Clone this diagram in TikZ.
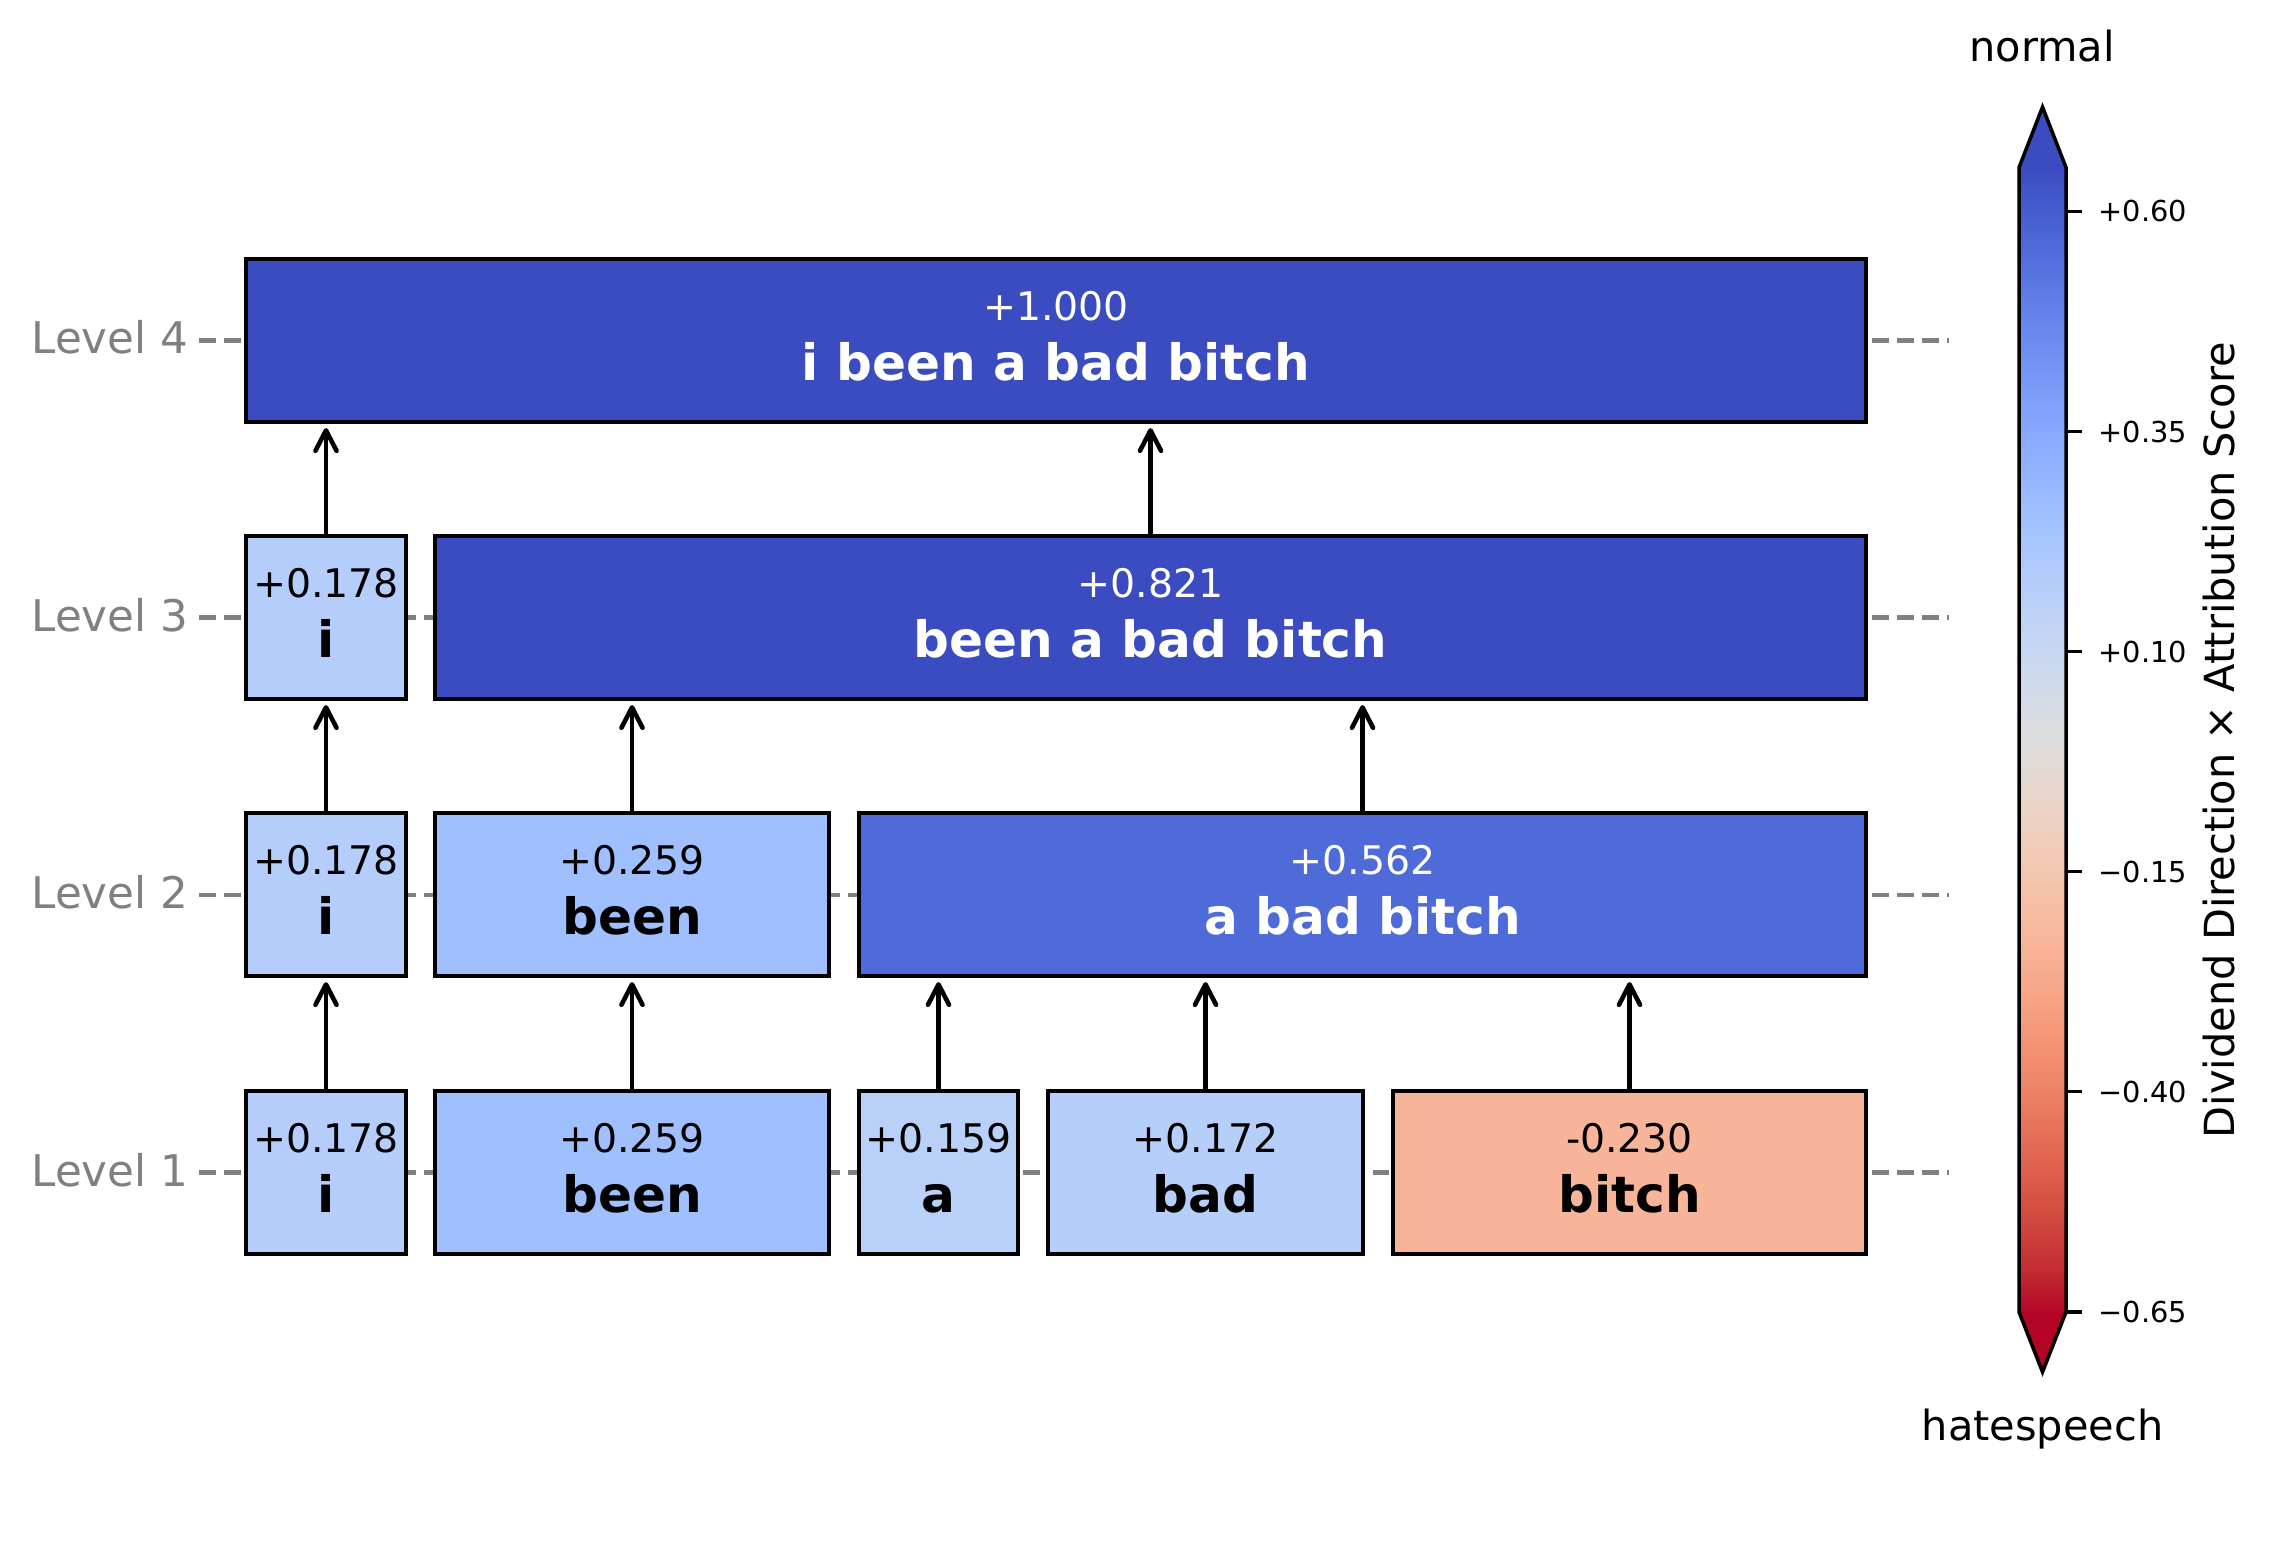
\documentclass[tikz,border=0pt]{standalone}
\usepackage{fontspec}
\setmainfont{DejaVu Sans}
\usetikzlibrary{arrows.meta,calc}
% coolwarm samples (blue -> red)
\definecolor{cw0}{RGB}{59,76,192}
\definecolor{cw1}{RGB}{68,90,204}
\definecolor{cw2}{RGB}{77,104,215}
\definecolor{cw3}{RGB}{87,117,225}
\definecolor{cw4}{RGB}{98,130,234}
\definecolor{cw5}{RGB}{108,142,241}
\definecolor{cw6}{RGB}{119,154,247}
\definecolor{cw7}{RGB}{130,165,251}
\definecolor{cw8}{RGB}{141,176,254}
\definecolor{cw9}{RGB}{152,185,255}
\definecolor{cw10}{RGB}{163,194,255}
\definecolor{cw11}{RGB}{174,201,253}
\definecolor{cw12}{RGB}{184,208,249}
\definecolor{cw13}{RGB}{194,213,244}
\definecolor{cw14}{RGB}{204,217,238}
\definecolor{cw15}{RGB}{213,219,230}
\definecolor{cw16}{RGB}{221,221,221}
\definecolor{cw17}{RGB}{229,216,209}
\definecolor{cw18}{RGB}{236,211,197}
\definecolor{cw19}{RGB}{241,204,185}
\definecolor{cw20}{RGB}{245,196,173}
\definecolor{cw21}{RGB}{247,187,160}
\definecolor{cw22}{RGB}{247,177,148}
\definecolor{cw23}{RGB}{247,166,135}
\definecolor{cw24}{RGB}{244,154,123}
\definecolor{cw25}{RGB}{241,141,111}
\definecolor{cw26}{RGB}{236,127,99}
\definecolor{cw27}{RGB}{229,112,88}
\definecolor{cw28}{RGB}{222,96,77}
\definecolor{cw29}{RGB}{213,80,66}
\definecolor{cw30}{RGB}{203,62,56}
\definecolor{cw31}{RGB}{192,40,47}
\definecolor{cw32}{RGB}{180,4,38}
% box colours
\definecolor{cA}{RGB}{180,205,251}  % +0.178
\definecolor{cB}{RGB}{159,191,255}  % +0.259
\definecolor{cC}{RGB}{185,208,249}  % +0.159
\definecolor{cD}{RGB}{182,206,250}  % +0.172
\definecolor{cE}{RGB}{247,180,152}  % -0.230
\definecolor{cF}{RGB}{79,106,217}   % +0.562
\definecolor{cG}{RGB}{59,76,192}    % +0.821 / +1.000
\definecolor{lvlgrey}{RGB}{128,128,128}

\newcommand\tokbox[5]{%
  \node[tokbox, fill=#5, minimum width={(#3-#2)*0.01cm}, anchor=north west] (#1) at (#2,#4) {};}
\newcommand\toktext[4]{%
  \node[valtxt, text=#4] (#1v) at ($(#1.center)+(0,-20.5)$) {#2};
  \node[wordtxt, text=#4] (#1w) at ($(#1.center)+(0,39.5)$) {#3};}

\begin{document}
\begin{tikzpicture}[x=0.01cm, y=-0.01cm,
  tokbox/.style={draw=black, line width=1pt, rectangle, inner sep=0pt, outer sep=0pt, minimum height=1.63cm},
  valtxt/.style={anchor=base, inner sep=0pt, font=\fontsize{11.2}{13}\selectfont},
  wordtxt/.style={anchor=base, inner sep=0pt, font=\fontsize{14.25}{16}\selectfont\bfseries},
  lvltxt/.style={anchor=base east, inner sep=0pt, text=lvlgrey, font=\fontsize{12.4}{15}\selectfont},
  lvlline/.style={draw=lvlgrey, line width=1.2pt, dash pattern=on 4.8pt off 2.3pt},
  arr/.style={line width=1.3pt, -{Straight Barb[length=5.8pt, width=6pt, round]}, shorten >=0.06cm},
  cbtick/.style={line width=0.9pt},
  cbtxt/.style={anchor=base west, inner sep=0pt, font=\fontsize{8.2}{10}\selectfont},
  cbname/.style={inner sep=0pt, font=\fontsize{11.8}{13}\selectfont}
]
\useasboundingbox (0,0) rectangle (2273,1561);

% level guide lines and labels
\foreach \lv/\cy in {4/340.5, 3/617.5, 2/895, 1/1172.5}{
  \coordinate (d\lv a) at (199,\cy);
  \coordinate (d\lv b) at (1949,\cy);
  \draw[lvlline] (d\lv a) -- (d\lv b);
  \node[lvltxt] (lab\lv) at (189,\cy+13.5) {Level \lv};
}

% Level 1
\tokbox{l1i}{246}{406}{1091}{cA}
\tokbox{l1been}{435}{829}{1091}{cB}
\tokbox{l1a}{859}{1018}{1091}{cC}
\tokbox{l1bad}{1048}{1363}{1091}{cD}
\tokbox{l1bitch}{1393}{1866}{1091}{cE}
% Level 2
\tokbox{l2i}{246}{406}{813}{cA}
\tokbox{l2been}{435}{829}{813}{cB}
\tokbox{l2abb}{859}{1866}{813}{cF}
% Level 3
\tokbox{l3i}{246}{406}{536}{cA}
\tokbox{l3rest}{435}{1866}{536}{cG}
% Level 4
\tokbox{l4}{246}{1866}{259}{cG}

\toktext{l1i}{+0.178}{i}{black}
\toktext{l1been}{+0.259}{been}{black}
\toktext{l1a}{+0.159}{a}{black}
\toktext{l1bad}{+0.172}{bad}{black}
\toktext{l1bitch}{-0.230}{bitch}{black}
\toktext{l2i}{+0.178}{i}{black}
\toktext{l2been}{+0.259}{been}{black}
\toktext{l2abb}{+0.562}{a bad bitch}{white}
\toktext{l3i}{+0.178}{i}{black}
\toktext{l3rest}{+0.821}{been a bad bitch}{white}
\toktext{l4}{+1.000}{i been a bad bitch}{white}

% arrows
\draw[arr] (l1i.north) -- (l1i.north |- l2i.south);
\draw[arr] (l1been.north) -- (l1been.north |- l2been.south);
\draw[arr] (l1a.north) -- (l1a.north |- l2abb.south);
\draw[arr] (l1bad.north) -- (l1bad.north |- l2abb.south);
\draw[arr] (l1bitch.north) -- (l1bitch.north |- l2abb.south);
\draw[arr] (l2i.north) -- (l2i.north |- l3i.south);
\draw[arr] (l2been.north) -- (l2been.north |- l3rest.south);
\draw[arr] (l2abb.north) -- (l2abb.north |- l3rest.south);
\draw[arr] (l3i.north) -- (l3i.north |- l4.south);
\draw[arr] (l3rest.north) -- (l3rest.north |- l4.south);

% colour bar
\foreach \k in {0,...,31}{
  \pgfmathtruncatemacro\kk{\k+1}
  \shade[top color=cw\k, bottom color=cw\kk] (2019,{167.5+\k*35.766}) rectangle (2066,{167.5+(\k+1)*35.766+0.8});
}
\fill[cw0] (2019,168) -- (2042.5,107) -- (2066,168) -- cycle;
\fill[cw32] (2019,1311.5) -- (2042.5,1372) -- (2066,1311.5) -- cycle;
\draw[line width=1pt, line join=miter] (2019,167.5) -- (2042.5,107) -- (2066,167.5) -- (2066,1312) -- (2042.5,1372) -- (2019,1312) -- cycle;
\foreach \v/\ty/\n in {{+0.60}/211.5/t1, {+0.35}/431.6/t2, {+0.10}/651.7/t3, {−0.15}/871.8/t4, {−0.40}/1091.9/t5, {−0.65}/1312/t6}{
  \coordinate (\n a) at (2066,\ty);
  \coordinate (\n b) at (2082,\ty);
  \draw[cbtick] (\n a) -- (\n b);
  \node[cbtxt] (\n l) at (2098,\ty+10.5) {\v};
}
\node[cbname, anchor=base] (cbtop) at (2042,61.7) {normal};
\node[cbname, anchor=base] (cbbot) at (2042.5,1440) {hatespeech};
\node[cbname, rotate=90] (cblab) at (2219,740) {Dividend Direction × Attribution Score};
\end{tikzpicture}
\end{document}
